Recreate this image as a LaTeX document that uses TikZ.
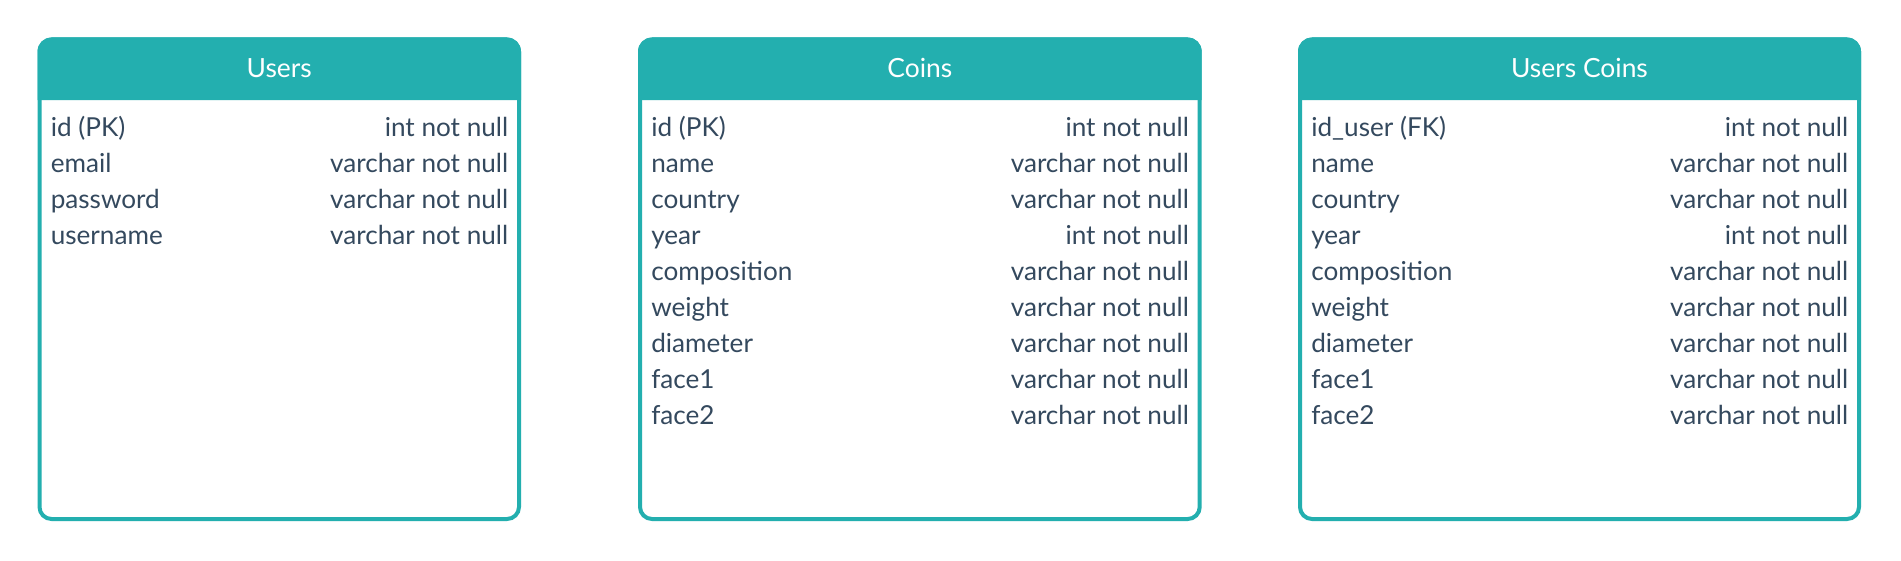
\documentclass[tikz,border=0pt]{standalone}
\usepackage{fontspec}
\setmainfont{Lato}
\definecolor{hdrteal}{HTML}{23AFAF}
\definecolor{rowtext}{HTML}{34495E}
\tikzset{
  px/.style={x=0.75pt,y=-0.75pt},
  hdrfill/.style={fill=hdrteal},
  frame/.style={draw=hdrteal,line width=3pt,rounded corners=9pt},
  titletext/.style={anchor=base,inner sep=0pt,text=white,font=\fontsize{19.8pt}{23pt}\selectfont},
  colname/.style={anchor=base west,inner sep=0pt,text=rowtext,font=\fontsize{19.6pt}{23pt}\selectfont},
  coltype/.style={anchor=base east,inner sep=0pt,text=rowtext,font=\fontsize{19.6pt}{23pt}\selectfont},
}
% #1 id, #2 left, #3 right, #4 title
\newcommand\ertable[4]{%
  \fill[hdrfill] (#2,100) [rounded corners=10.5pt] -- (#2,37.5) -- (#3,37.5) [sharp corners] -- (#3,100) -- cycle;
  \draw[frame] (#2+2,39.5) rectangle (#3-2,519);
  \node[titletext] (#1-title) at ({(#2+#3)/2},78) {#4};
}
% #1 id, #2 left, #3 right, #4 row index, #5 name, #6 type
\newcommand\errow[6]{%
  \node[colname] (#1-n#4) at (#2+13,{136+36*(#4)}) {#5};
  \node[coltype] (#1-t#4) at (#3-12.5,{136+36*(#4)}) {#6};
}
\begin{document}
\begin{tikzpicture}[px]
\useasboundingbox (0,0) rectangle (1901,560);
\fill[white] (0,0) rectangle (1901,560);

% Users
\ertable{users}{37.5}{521}{Users}
\errow{users}{37.5}{521}{0}{id (PK)}{int not null}
\errow{users}{37.5}{521}{1}{email}{varchar not null}
\errow{users}{37.5}{521}{2}{password}{varchar not null}
\errow{users}{37.5}{521}{3}{username}{varchar not null}

% Coins
\ertable{coins}{638}{1201.7}{Coins}
\errow{coins}{638}{1201.7}{0}{id (PK)}{int not null}
\errow{coins}{638}{1201.7}{1}{name}{varchar not null}
\errow{coins}{638}{1201.7}{2}{country}{varchar not null}
\errow{coins}{638}{1201.7}{3}{year}{int not null}
\errow{coins}{638}{1201.7}{4}{composition}{varchar not null}
\errow{coins}{638}{1201.7}{5}{weight}{varchar not null}
\errow{coins}{638}{1201.7}{6}{diameter}{varchar not null}
\errow{coins}{638}{1201.7}{7}{face1}{varchar not null}
\errow{coins}{638}{1201.7}{8}{face2}{varchar not null}

% Users Coins
\ertable{uc}{1298}{1861}{Users Coins}
\errow{uc}{1298}{1861}{0}{id\_user (FK)}{int not null}
\errow{uc}{1298}{1861}{1}{name}{varchar not null}
\errow{uc}{1298}{1861}{2}{country}{varchar not null}
\errow{uc}{1298}{1861}{3}{year}{int not null}
\errow{uc}{1298}{1861}{4}{composition}{varchar not null}
\errow{uc}{1298}{1861}{5}{weight}{varchar not null}
\errow{uc}{1298}{1861}{6}{diameter}{varchar not null}
\errow{uc}{1298}{1861}{7}{face1}{varchar not null}
\errow{uc}{1298}{1861}{8}{face2}{varchar not null}
\end{tikzpicture}
\end{document}
